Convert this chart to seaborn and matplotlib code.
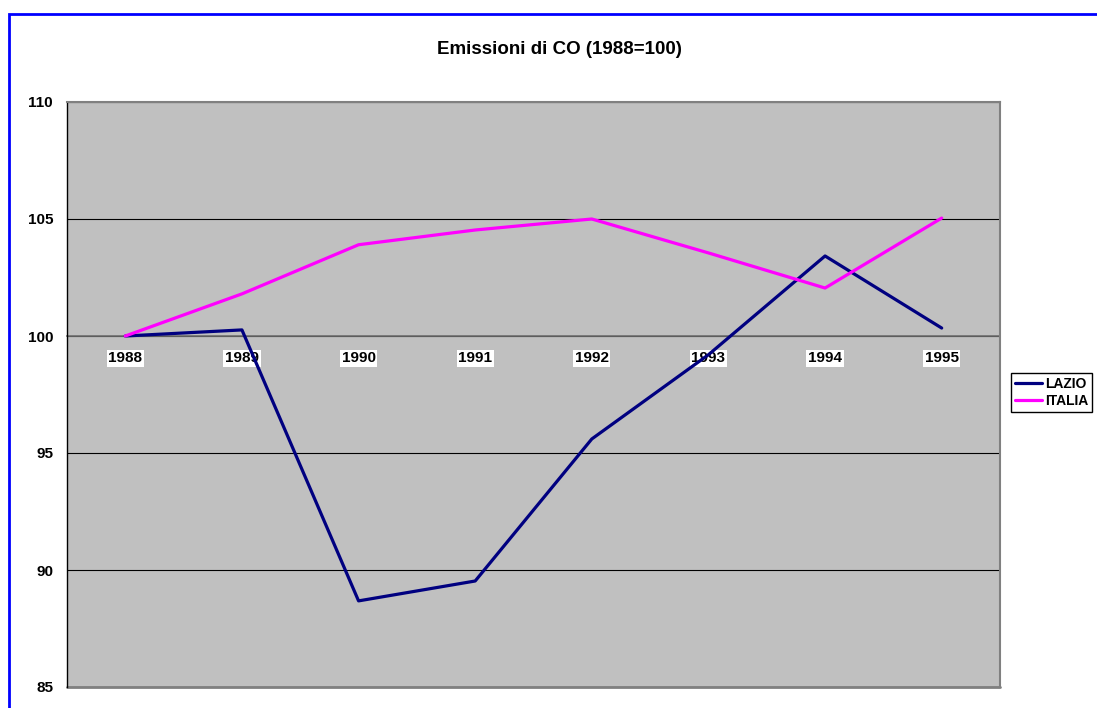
import pandas as pd
import numpy as np
import matplotlib.pyplot as plt
import seaborn as sns
from matplotlib.ticker import MultipleLocator

# Data
years = [1988, 1989, 1990, 1991, 1992, 1993, 1994, 1995]
lazio = [100.0, 100.26, 88.68, 89.53, 95.6, 99.2, 103.42, 100.34]
italia = [100.0, 101.8, 103.9, 104.53, 105.0, 103.55, 102.05, 105.04]
series_names = ['LAZIO', 'ITALIA']
colors = ['#000080', '#FF00FF']

df = pd.DataFrame({
    'anno': years * 2,
    'valore': lazio + italia,
    'serie': [series_names[0]] * len(years) + [series_names[1]] * len(years),
})

sns.set_style("white")
plt.rcParams['font.family'] = ['Liberation Sans', 'DejaVu Sans']
plt.rcParams['font.weight'] = 'bold'
plt.rcParams['text.color'] = 'black'
plt.rcParams['xtick.color'] = 'black'
plt.rcParams['ytick.color'] = 'black'
plt.rcParams['xtick.labelcolor'] = 'black'
plt.rcParams['ytick.labelcolor'] = 'black'

W, H = 1097, 708
fig = plt.figure(figsize=(W / 100, H / 100), dpi=100)
ax = fig.add_axes([67 / W, 1 - 687 / H, (1000 - 67) / W, (687 - 102) / H])
ax.set_facecolor('#C0C0C0')

sns.lineplot(data=df, x='anno', y='valore', hue='serie', palette=dict(zip(series_names, colors)),
             linewidth=2.3, ax=ax, legend=False)

ax.set_xlim(years[0] - 0.5, years[-1] + 0.5)
ax.set_ylim(85, 110)
ax.yaxis.set_major_locator(MultipleLocator(5))
ax.grid(axis='y', color='black', linewidth=0.8)
ax.set_axisbelow(True)

# category axis crossing at 100
ax.spines['bottom'].set_position(('data', 100))
ax.spines['bottom'].set_color('#707070')
ax.spines['bottom'].set_linewidth(1.2)
ax.spines['bottom'].set_zorder(1.5)
ax.spines['top'].set_color('#808080')
ax.spines['top'].set_linewidth(1.5)
ax.spines['right'].set_color('#808080')
ax.spines['right'].set_linewidth(1.5)
ax.spines['left'].set_color('black')
ax.spines['left'].set_linewidth(1)
ax.axhline(85, color='#808080', linewidth=2, clip_on=False)

ax.set_xticks(years)
ax.set_xticklabels([str(y) for y in years], fontsize=11, fontweight='bold')
ax.set_xticks([y + 0.5 for y in years[:-1]], minor=True)
ax.tick_params(axis='x', which='major', length=0, pad=11)
ax.tick_params(axis='x', which='minor', length=5, direction='out', color='#505050', width=1)
for lab in ax.get_xticklabels():
    lab.set_bbox(dict(facecolor='white', edgecolor='none', pad=1.2))

ax.tick_params(axis='y', which='major', length=5, direction='out', color='black', width=1,
               labelsize=11, pad=5)
for lab in ax.get_yticklabels():
    lab.set_fontweight('bold')

ax.set_xlabel('')
ax.set_ylabel('')

fig.text(559 / W, 1 - 49 / H, 'Emissioni di CO (1988=100)', ha='center', va='center',
         fontsize=13.5, fontweight='bold')

# legend
handles = [plt.Line2D([], [], color=c, linewidth=2.3) for c in colors]
leg = fig.legend(handles, series_names, loc='upper left', bbox_to_anchor=(1011 / W, 1 - 373 / H),
                 frameon=True, fancybox=False, edgecolor='black', framealpha=1,
                 prop={'size': 10, 'weight': 'bold'}, handlelength=1.9, handletextpad=0.25,
                 borderpad=0.3, labelspacing=0.2, borderaxespad=0)
leg.get_frame().set_linewidth(1)

# outer blue border
fig.add_artist(plt.Rectangle((9 / W, -0.1), 2, 1 - 14 / H + 0.1, fill=False,
                             edgecolor='#0000FF', linewidth=2, transform=fig.transFigure))

fig.savefig('out.png', dpi=100)
